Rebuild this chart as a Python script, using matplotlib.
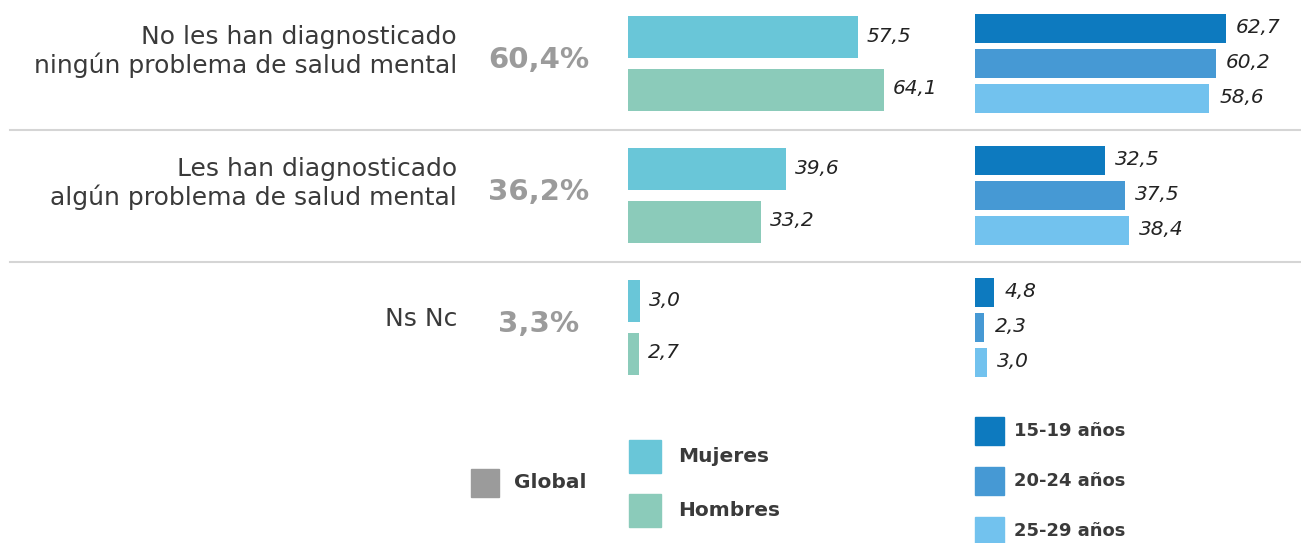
import matplotlib.pyplot as plt
from matplotlib.patches import Rectangle

# data
categories = ["No les han diagnosticado\nningún problema de salud mental",
              "Les han diagnosticado\nalgún problema de salud mental",
              "Ns Nc"]
global_pct = [60.4, 36.2, 3.3]
mujeres = [57.5, 39.6, 3.0]
hombres = [64.1, 33.2, 2.7]
age_groups = ["15-19 años", "20-24 años", "25-29 años"]
age_vals = [[62.7, 60.2, 58.6],
            [32.5, 37.5, 38.4],
            [4.8, 2.3, 3.0]]

gender_labels = ["Mujeres", "Hombres"]
gender_colors = ["#69C6D8", "#8BCBBA"]
age_colors = ["#0D7ABF", "#4699D4", "#72C2EE"]
grey = "#9B9B9B"
dark = "#3A3A3A"

W, H = 1301, 543
plt.rcParams['font.family'] = ['DejaVu Sans']

def fmt(v):
    return f"{v:.1f}".replace(".", ",")

fig = plt.figure(figsize=(W / 100, H / 100), dpi=100)

# overlay axes in pixel units for texts, separators, legend
ov = fig.add_axes([0, 0, 1, 1])
ov.set_xlim(0, W)
ov.set_ylim(H, 0)
ov.axis("off")

px_per_unit = 4.0
row_centers = [63.5 + 132 * i for i in range(len(categories))]

# gender bars
g_left, g_width = 628, 330
axg = fig.add_axes([g_left / W, 0, g_width / W, 1])
axg.set_xlim(0, g_width / px_per_unit)
axg.set_ylim(H, 0)
axg.axis("off")
for i, rc in enumerate(row_centers):
    for j, vals in enumerate([mujeres, hombres]):
        y = rc + (-26.5 if j == 0 else 26.5)
        axg.barh(y, vals[i], height=42, color=gender_colors[j])
        axg.text(vals[i] + 2.2, y - 1, fmt(vals[i]), style="italic", fontsize=14.5,
                 color="#222222", va="center", ha="left")

# age bars
a_left, a_width = 975, W - 975
axa = fig.add_axes([a_left / W, 0, a_width / W, 1])
axa.set_xlim(0, a_width / px_per_unit)
axa.set_ylim(H, 0)
axa.axis("off")
for i, rc in enumerate(row_centers):
    for j in range(len(age_groups)):
        y = rc + (j - 1) * 35
        v = age_vals[i][j]
        axa.barh(y, v, height=29, color=age_colors[j])
        axa.text(v + 2.6, y - 1, fmt(v), style="italic", fontsize=14.5,
                 color="#222222", va="center", ha="left")

# category texts and global percent
for i, rc in enumerate(row_centers):
    dy = -12 if "\n" in categories[i] else -8
    ov.text(457, rc + dy, categories[i], ha="right", va="center", fontsize=18,
            color=dark, linespacing=1.18)
    ov.text(539, rc - 4, f"{global_pct[i]:.1f}%".replace(".", ","), ha="center",
            va="center", fontsize=21, fontweight="bold", color=grey)

# separators
for i in range(len(categories) - 1):
    y = (row_centers[i] + row_centers[i + 1]) / 2
    ov.plot([10, W], [y, y], color="#D5D5D5", lw=1.5)

# legend
ov.add_patch(Rectangle((471, 469), 28, 28, color=grey))
ov.text(514, 482, "Global", fontsize=14.5, fontweight="bold", color=dark, va="center")
for j, lab in enumerate(gender_labels):
    y0 = 440 + j * 54
    ov.add_patch(Rectangle((629, y0), 32, 33, color=gender_colors[j]))
    ov.text(678, y0 + 16, lab, fontsize=14.5, fontweight="bold", color=dark, va="center")
for j, lab in enumerate(age_groups):
    y0 = 417 + j * 50
    ov.add_patch(Rectangle((975, y0), 29, 28, color=age_colors[j]))
    ov.text(1014, y0 + 14, lab, fontsize=13, fontweight="bold", color=dark, va="center")

fig.savefig("out.png", dpi=100)
